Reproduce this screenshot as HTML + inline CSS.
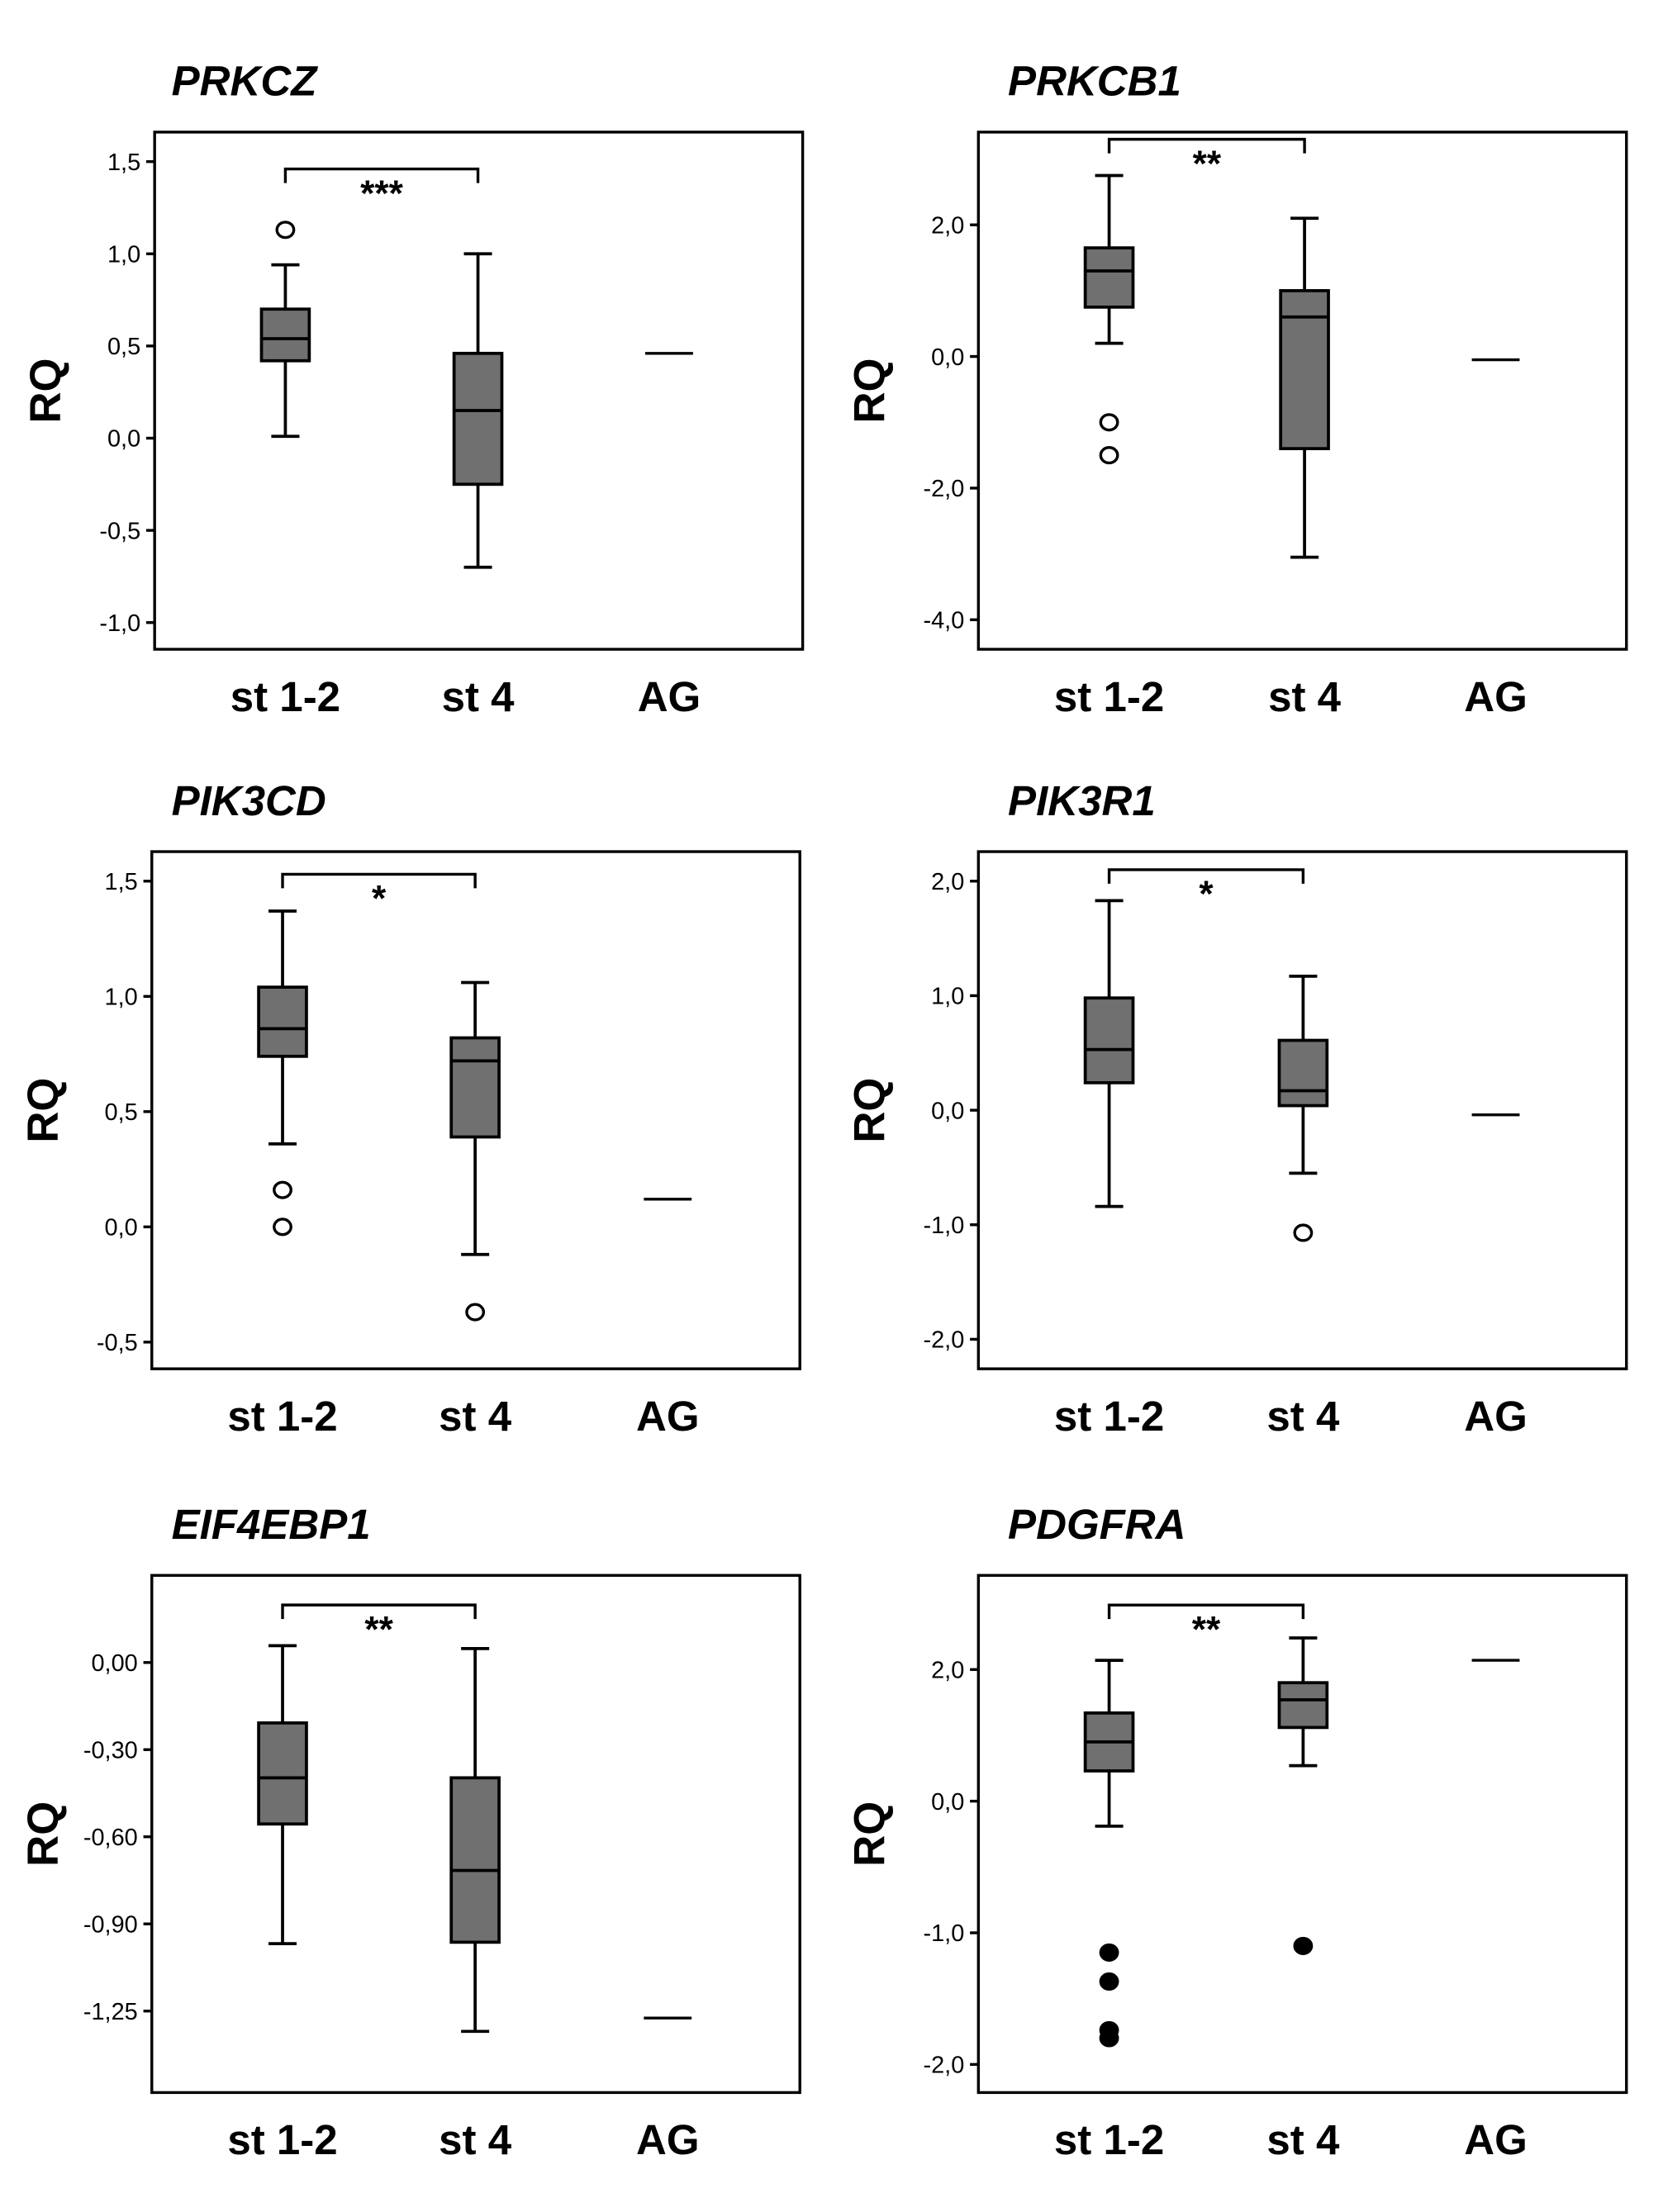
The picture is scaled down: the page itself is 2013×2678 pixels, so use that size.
<!DOCTYPE html>
<html><head><meta charset="utf-8"><style>
html,body{margin:0;padding:0;background:#fff;}
svg{display:block;}
</style></head><body>
<svg id="fig" width="2013" height="2678" viewBox="0 0 1183 1574" preserveAspectRatio="none" xmlns="http://www.w3.org/2000/svg"></svg>
<script>
const categories = ['st 1-2', 'st 4', 'AG'];
const panelTitles = ['PRKCZ', 'PRKCB1', 'PIK3CD', 'PIK3R1', 'EIF4EBP1', 'PDGFRA'];
const tickValues = [
  [1.5, 1.0, 0.5, 0.0, -0.5, -1.0],
  [2, 0, -2, -4],
  [1.5, 1.0, 0.5, 0.0, -0.5],
  [2, 1, 0, -1, -2],
  [0, -0.3, -0.6, -0.9, -1.2],
  [1, 0, -1, -2]
];
const tickLabels = [
  ['1,5','1,0','0,5','0,0','-0,5','-1,0'],
  ['2,0','0,0','-2,0','-4,0'],
  ['1,5','1,0','0,5','0,0','-0,5'],
  ['2,0','1,0','0,0','-1,0','-2,0'],
  ['0,00','-0,30','-0,60','-0,90','-1,25'],
  ['2,0','0,0','-1,0','-2,0']
];
// [whiskerLow, q1, median, q3, whiskerHigh] for st 1-2 and st 4
const boxStats12 = [
  [0.01, 0.42, 0.54, 0.70, 0.94],
  [0.2, 0.75, 1.3, 1.65, 2.75],
  [0.36, 0.74, 0.86, 1.04, 1.37],
  [-0.84, 0.24, 0.53, 0.98, 1.83],
  [-0.968, -0.556, -0.397, -0.208, 0.058],
  [-0.19, 0.23, 0.45, 0.67, 1.07]
];
const boxStats4 = [
  [-0.70, -0.25, 0.15, 0.46, 1.0],
  [-3.05, -1.4, 0.6, 1.0, 2.1],
  [-0.12, 0.39, 0.72, 0.82, 1.06],
  [-0.55, 0.04, 0.17, 0.61, 1.17],
  [-1.27, -0.963, -0.716, -0.397, 0.048],
  [0.27, 0.56, 0.77, 0.90, 1.24]
];
const agValues = [0.46, -0.05, 0.12, -0.04, -1.224, 1.07];
const outliers12 = [[1.13], [-1.0, -1.5], [0.16, 0.0], [], [], [-1.15, -1.37, -1.74, -1.80]];
const outliers4 = [[], [], [-0.37], [-1.07], [], [-1.10]];
const outlierFilled = [false, false, false, false, false, true];
const bracketValues = [1.46, 3.3, 1.53, 2.1, 0.198, 1.49];
const stars = ['***', '**', '*', '*', '**', '**'];

const layout = [
  {x0:110,x1:571,y0:94,y1:462,cx:[203,340,476],tA:115,tB:443,tx:12},
  {x0:696,x1:1157,y0:94,y1:462,cx:[789,928,1064],tA:160,tB:441,tx:21},
  {x0:108,x1:569,y0:606,y1:974,cx:[201,338,475],tA:627,tB:955,tx:14},
  {x0:696,x1:1157,y0:606,y1:974,cx:[789,927,1064],tA:627,tB:953,tx:21},
  {x0:108,x1:569,y0:1121,y1:1489,cx:[201,338,475],tA:1183,tB:1431,tx:14},
  {x0:696,x1:1157,y0:1121,y1:1489,cx:[789,927,1064],tA:1188,tB:1469,tx:21}
];
const NS = 'http://www.w3.org/2000/svg';
const svg = document.getElementById('fig');
function mk(tag, attrs, parent){
  const e = document.createElementNS(NS, tag);
  for (const k in attrs) e.setAttribute(k, attrs[k]);
  (parent||svg).appendChild(e);
  return e;
}
layout.forEach((L, p) => {
  const tv = tickValues[p];
  const vA = tv[0], vB = tv[tv.length-1];
  const y = v => L.tA + (v - vA) * (L.tB - L.tA) / (vB - vA);
  const g = mk('g', {});
  
  
  const t = mk('text', {x: L.x0 + L.tx, y: L.y0 - 26, 'font-family':'Liberation Sans, sans-serif', 'font-size':30, 'font-weight':'bold', 'font-style':'italic'}, g);
  t.textContent = panelTitles[p];
  
  
  const fr = mk('rect', {x:L.x0, y:L.y0, width:L.x1-L.x0, height:L.y1-L.y0, fill:'none', stroke:'#000', 'stroke-width':2}, g);
  
  
  const yl = mk('text', {x:0, y:0, transform:`translate(${L.x0-67},${(L.y0+L.y1)/2}) rotate(-90)`, 'text-anchor':'middle', 'font-family':'Liberation Sans, sans-serif', 'font-size':31, 'font-weight':'bold'}, g);
  yl.textContent = 'RQ';
  
  
  tv.forEach((v, i) => {
    const yy = y(v);
    const tk = mk('line', {x1:L.x0-6, x2:L.x0, y1:yy, y2:yy, stroke:'#000', 'stroke-width':2}, g);
    
    
    const tl = mk('text', {x:L.x0-10, y:yy+6, 'text-anchor':'end', 'font-family':'Liberation Sans, sans-serif', 'font-size':17}, g);
    tl.textContent = tickLabels[p][i];
    
    
  });
  categories.forEach((c, i) => {
    const xl = mk('text', {x:L.cx[i], y:L.y1+44, 'text-anchor':'middle', 'font-family':'Liberation Sans, sans-serif', 'font-size':30, 'font-weight':'bold'}, g);
    xl.textContent = c;
    
    
  });
  [boxStats12[p], boxStats4[p]].forEach((s, i) => {
    const cx = L.cx[i], hw = 17, cw = 10;
    const bg = mk('g', {stroke:'#000', 'stroke-width':2.2}, g);
    
    
    mk('line', {x1:cx, x2:cx, y1:y(s[0]), y2:y(s[4])}, bg);
    mk('line', {x1:cx-cw, x2:cx+cw, y1:y(s[0]), y2:y(s[0])}, bg);
    mk('line', {x1:cx-cw, x2:cx+cw, y1:y(s[4]), y2:y(s[4])}, bg);
    mk('rect', {x:cx-hw, y:y(s[3]), width:2*hw, height:y(s[1])-y(s[3]), fill:'#707070'}, bg);
    mk('line', {x1:cx-hw, x2:cx+hw, y1:y(s[2]), y2:y(s[2])}, bg);
  });
  [outliers12[p], outliers4[p]].forEach((arr, i) => {
    arr.forEach(v => {
      const o = mk('ellipse', {cx:L.cx[i], cy:y(v), rx:6, ry:5.5, fill: outlierFilled[p] ? '#000' : '#fff', stroke:'#000', 'stroke-width':2}, g);
      
      
    });
  });
  const ag = mk('line', {x1:L.cx[2]-17, x2:L.cx[2]+17, y1:y(agValues[p]), y2:y(agValues[p]), stroke:'#000', 'stroke-width':2}, g);
  
  
  const by = y(bracketValues[p]);
  const br = mk('path', {d:`M${L.cx[0]} ${by+10} V${by} H${L.cx[1]} V${by+10}`, fill:'none', stroke:'#000', 'stroke-width':2}, g);
  
  
  const st = mk('text', {x:(L.cx[0]+L.cx[1])/2, y:by+26, 'text-anchor':'middle', 'font-family':'Liberation Sans, sans-serif', 'font-size':26, 'font-weight':'bold'}, g);
  st.textContent = stars[p];
  
  
});
</script>
</body></html>
